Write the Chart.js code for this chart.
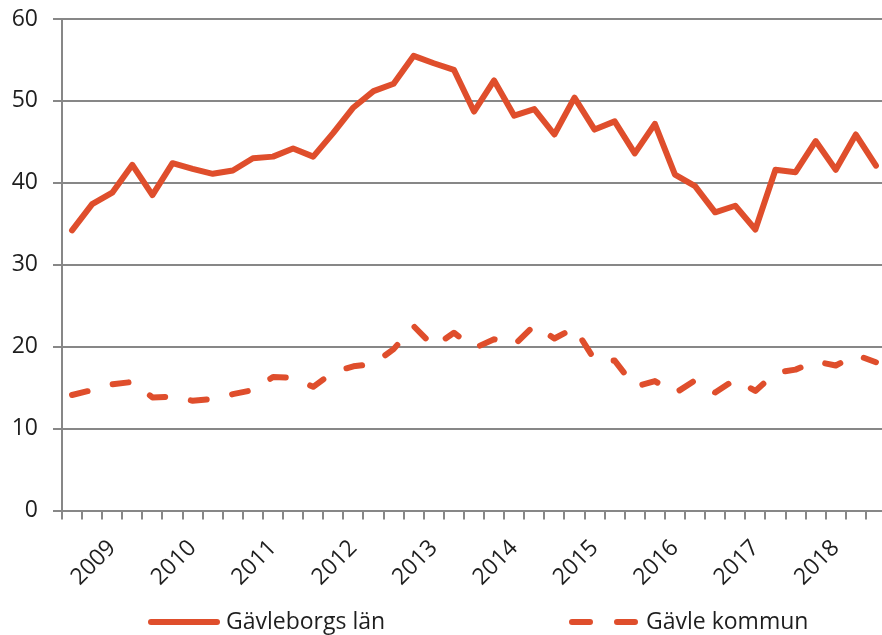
<!DOCTYPE html>
<html>
<head>
<meta charset="utf-8">
<script src="https://cdn.jsdelivr.net/npm/chart.js@4/dist/chart.umd.min.js"></script>
<style>
  html, body { margin: 0; padding: 0; background: #fff; overflow: hidden; }
  #wrap { width: 886px; height: 635px; } /* a bit wider than the window, the right edge is cut like in the picture */
</style>
</head>
<body>
<div id="wrap"><canvas id="chart"></canvas></div>
<script>
// quarters on the x axis
const quarters = [
    '2008 Q3', '2008 Q4',
    '2009 Q1', '2009 Q2', '2009 Q3', '2009 Q4',
    '2010 Q1', '2010 Q2', '2010 Q3', '2010 Q4',
    '2011 Q1', '2011 Q2', '2011 Q3', '2011 Q4',
    '2012 Q1', '2012 Q2', '2012 Q3', '2012 Q4',
    '2013 Q1', '2013 Q2', '2013 Q3', '2013 Q4',
    '2014 Q1', '2014 Q2', '2014 Q3', '2014 Q4',
    '2015 Q1', '2015 Q2', '2015 Q3', '2015 Q4',
    '2016 Q1', '2016 Q2', '2016 Q3', '2016 Q4',
    '2017 Q1', '2017 Q2', '2017 Q3', '2017 Q4',
    '2018 Q1', '2018 Q2', '2018 Q3'
];
const yearTicks = ['2009 Q1', '2010 Q1', '2011 Q1', '2012 Q1', '2013 Q1', '2014 Q1', '2015 Q1', '2016 Q1', '2017 Q1', '2018 Q1'];

const seriesNames = ['Gävleborgs län', 'Gävle kommun'];

const lanValues = [
    34.2, 37.4, 38.8, 42.2, 38.5, 42.4, 41.7, 41.1, 41.5, 43.0,
    43.2, 44.2, 43.2, 46.1, 49.2, 51.2, 52.1, 55.5, 54.6, 53.8,
    48.7, 52.5, 48.2, 49.0, 45.9, 50.4, 46.5, 47.5, 43.6, 47.2,
    41.0, 39.6, 36.4, 37.2, 34.3, 41.6, 41.3, 45.1, 41.6, 45.9,
    42.1
];
const kommunValues = [
    14.1, 14.7, 15.4, 15.7, 13.8, 13.9, 13.4, 13.6, 14.2, 14.7,
    16.3, 16.2, 15.1, 16.9, 17.6, 17.9, 19.7, 22.5, 20.0, 21.7,
    19.8, 20.9, 20.2, 22.6, 21.0, 22.3, 18.4, 18.3, 15.1, 15.8,
    14.3, 15.9, 14.4, 16.0, 14.6, 16.8, 17.2, 18.2, 17.7, 19.0,
    18.1
];

const yMin = 0;
const yMax = 60;
const yStep = 10;

const lineColor = '#DF4E2C';
const gridColor = '#878787';
const textColor = '#1e1e1e';
const fontFamily = '"Open Sans", "Noto Sans", sans-serif';
const fontSize = 23;

// legend under the chart, drawn by hand so the items sit where they are in the picture
const bottomLegend = {
    id: 'bottomLegend',
    afterDraw(chart) {
        const ctx = chart.ctx;
        const spots = [{ x1: 151, x2: 217, textX: 226 }, { x1: 572, x2: 635, textX: 646 }];
        const y = 622;
        ctx.save();
        chart.data.datasets.forEach((ds, i) => {
            const s = spots[i];
            ctx.strokeStyle = ds.borderColor;
            ctx.lineWidth = ds.borderWidth;
            ctx.lineCap = 'round';
            ctx.setLineDash(ds.borderDash.length ? [18, 27] : []);
            ctx.beginPath();
            ctx.moveTo(s.x1, y);
            ctx.lineTo(s.x2, y);
            ctx.stroke();
            ctx.setLineDash([]);
            ctx.fillStyle = textColor;
            ctx.font = fontSize + 'px ' + fontFamily;
            ctx.textBaseline = 'middle';
            ctx.textAlign = 'left';
            ctx.fillText(ds.label, s.textX, y);
        });
        ctx.restore();
    }
};

const ctx = document.getElementById('chart').getContext('2d');

const chart = new Chart(ctx, {
    type: 'line',
    data: {
        labels: quarters,
        datasets: [{
            label: seriesNames[0],
            data: lanValues,
            borderColor: lineColor,
            borderWidth: 6,
            borderDash: [],
            borderJoinStyle: 'round',
            borderCapStyle: 'round',
            pointRadius: 0,
            tension: 0
        }, {
            label: seriesNames[1],
            data: kommunValues,
            borderColor: lineColor,
            borderWidth: 6,
            borderDash: [16, 26],
            borderJoinStyle: 'round',
            borderCapStyle: 'round',
            pointRadius: 0,
            tension: 0
        }]
    },
    options: {
        responsive: true,
        maintainAspectRatio: false,
        animation: false,
        devicePixelRatio: 1,
        layout: { padding: { top: 19, right: 0, bottom: 0, left: 0 } },
        plugins: {
            legend: { display: false },
            tooltip: { enabled: false }
        },
        scales: {
            x: {
                offset: true,
                afterFit: function(scale) {
                    scale.height = 124.5; // space for rotated years + legend
                    scale.paddingLeft = 0;
                    scale.paddingRight = 0;
                },
                grid: {
                    offset: true,
                    drawOnChartArea: false,
                    drawTicks: true,
                    tickLength: 9,
                    color: gridColor,
                    lineWidth: 2
                },
                border: { color: gridColor, width: 2 },
                ticks: {
                    autoSkip: false,
                    minRotation: 45,
                    maxRotation: 45,
                    padding: 15,
                    color: textColor,
                    font: { family: fontFamily, size: fontSize },
                    callback: function(value, index) {
                        const q = quarters[index];
                        return yearTicks.includes(q) ? q.slice(0, 4) : ''; // only the first quarter gets the year
                    }
                }
            },
            y: {
                min: yMin,
                max: yMax,
                afterFit: function(scale) {
                    scale.width = 62;
                    scale.paddingTop = 0; // tick padding should not push the plot down
                    scale.paddingBottom = 0;
                },
                grid: {
                    color: gridColor,
                    lineWidth: 2,
                    tickLength: 9
                },
                border: { color: gridColor, width: 2 },
                ticks: {
                    stepSize: yStep,
                    padding: 15,
                    color: textColor,
                    font: { family: fontFamily, size: fontSize }
                }
            }
        }
    },
    plugins: [bottomLegend]
});
</script>
</body>
</html>
